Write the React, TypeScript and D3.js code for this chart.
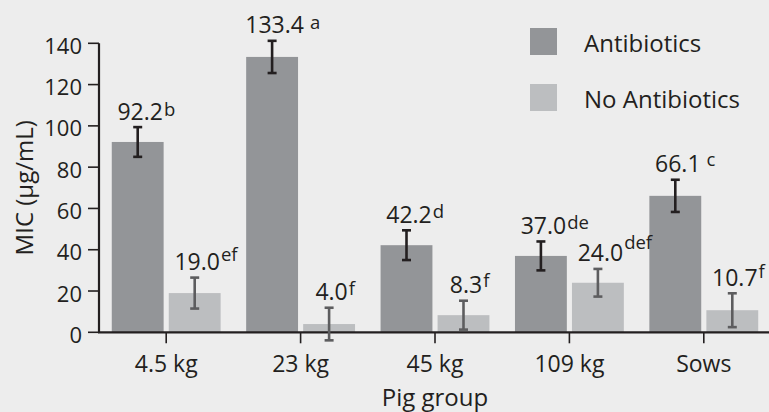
import React, { useEffect, useRef } from "react";
import * as d3 from "d3";

// Pig groups on the x axis
const groups = ["4.5 kg", "23 kg", "45 kg", "109 kg", "Sows"];
// Treatment series
const seriesNames = ["Antibiotics", "No Antibiotics"];
// Mean MIC values (µg/mL)
const antibioticsValues = [92.2, 133.4, 42.2, 37.0, 66.1];
const noAntibioticsValues = [19.0, 4.0, 8.3, 24.0, 10.7];
// Standard errors
const antibioticsErrors = [7.2, 7.8, 7.2, 7.0, 7.8];
const noAntibioticsErrors = [7.5, 7.9, 7.0, 6.7, 8.2];
// Significance letters
const antibioticsLetters = ["b", "a", "d", "de", "c"];
const noAntibioticsLetters = ["ef", "f", "f", "def", "f"];
// Y axis ticks
const yTicks = [0, 20, 40, 60, 80, 100, 120, 140];

const W = 769;
const H = 412;
const FONT = "'Open Sans', 'Noto Sans', sans-serif";
const INK = "#231f20";
const BAR_COLORS = ["#939598", "#bcbec0"];
const ERR_COLORS = ["#231f20", "#5d5d5f"];
// superscript lift and leading gap per label (style only)
const SUP_LIFT = [
  [4, 4, 5, 5, 6],
  [9, 5, 6, 12, 8],
];
const SUP_GAP = [
  [1, 6, 1, 1, 6],
  [1, 1, 1, 1, 1],
];

export default function App() {
  const ref = useRef<SVGSVGElement | null>(null);

  useEffect(() => {
    const svg = d3.select(ref.current);
    svg.selectAll("*").remove();

    const plotLeft = 99;
    const plotRight = 771;
    const plotTop = 43.3;
    const plotBottom = 332.3;

    const y = d3.scaleLinear().domain([0, 140]).range([plotBottom, plotTop]);
    const x0 = d3
      .scaleBand<string>()
      .domain(groups)
      .range([plotLeft, plotRight])
      .paddingInner(0.19)
      .paddingOuter(0.095);
    const x1 = d3
      .scaleBand<string>()
      .domain(seriesNames)
      .range([0, x0.bandwidth()])
      .paddingInner(0.09);

    svg.append("rect").attr("width", W).attr("height", H).attr("fill", "#ededed");

    const values = [antibioticsValues, noAntibioticsValues];
    const errors = [antibioticsErrors, noAntibioticsErrors];
    const letters = [antibioticsLetters, noAntibioticsLetters];

    // bars
    seriesNames.forEach((s, si) => {
      svg
        .append("g")
        .selectAll("rect")
        .data(groups)
        .join("rect")
        .attr("x", (g) => (x0(g) ?? 0) + (x1(s) ?? 0))
        .attr("width", x1.bandwidth())
        .attr("y", (_, i) => y(values[si][i]))
        .attr("height", (_, i) => y(0) - y(values[si][i]))
        .attr("fill", BAR_COLORS[si]);
    });

    // axes
    svg
      .append("line")
      .attr("x1", plotLeft)
      .attr("x2", plotLeft)
      .attr("y1", y(140))
      .attr("y2", y(0))
      .attr("stroke", INK)
      .attr("stroke-width", 2.2);

    const yt = svg.append("g");
    yTicks.forEach((t) => {
      yt.append("line")
        .attr("x1", plotLeft - 11)
        .attr("x2", plotLeft)
        .attr("y1", y(t))
        .attr("y2", y(t))
        .attr("stroke", INK)
        .attr("stroke-width", 1.6);
      yt.append("text")
        .attr("x", plotLeft - 17)
        .attr("y", y(t) + 10.5)
        .attr("text-anchor", "end")
        .attr("font-family", FONT)
        .attr("font-size", 22)
        .attr("fill", INK)
        .text(String(t));
    });

    groups.forEach((g) => {
      const cx = (x0(g) ?? 0) + x0.bandwidth() / 2;
      svg
        .append("line")
        .attr("x1", cx)
        .attr("x2", cx)
        .attr("y1", y(0))
        .attr("y2", y(0) + 11)
        .attr("stroke", INK)
        .attr("stroke-width", 1.6);
      svg
        .append("text")
        .attr("x", cx)
        .attr("y", y(0) + 39.5)
        .attr("text-anchor", "middle")
        .attr("font-family", FONT)
        .attr("font-size", 23)
        .attr("fill", INK)
        .text(g);
    });

    svg
      .append("line")
      .attr("x1", plotLeft - 1)
      .attr("x2", W)
      .attr("y1", y(0))
      .attr("y2", y(0))
      .attr("stroke", INK)
      .attr("stroke-width", 2.2);

    // error bars and value labels
    seriesNames.forEach((s, si) => {
      groups.forEach((g, i) => {
        const cx = (x0(g) ?? 0) + (x1(s) ?? 0) + x1.bandwidth() / 2;
        const v = values[si][i];
        const e = errors[si][i];
        const eg = svg.append("g").attr("stroke", ERR_COLORS[si]).attr("stroke-width", 2.6);
        eg.append("line").attr("x1", cx).attr("x2", cx).attr("y1", y(v + e)).attr("y2", y(v - e));
        eg.append("line").attr("x1", cx - 4.5).attr("x2", cx + 4.5).attr("y1", y(v + e)).attr("y2", y(v + e));
        eg.append("line").attr("x1", cx - 4.5).attr("x2", cx + 4.5).attr("y1", y(v - e)).attr("y2", y(v - e));

        const ly = y(v + e) - 7.5;
        const num = svg
          .append("text")
          .attr("x", cx + 2.5)
          .attr("y", ly)
          .attr("text-anchor", "middle")
          .attr("font-family", FONT)
          .attr("font-size", 23)
          .attr("fill", INK)
          .text(v.toFixed(1));
        const w = (num.node() as SVGTextElement).getComputedTextLength();
        svg
          .append("text")
          .attr("x", cx + 2.5 + w / 2 + SUP_GAP[si][i])
          .attr("y", ly - SUP_LIFT[si][i])
          .attr("font-family", FONT)
          .attr("font-size", 18.5)
          .attr("fill", INK)
          .text(letters[si][i]);
      });
    });

    // axis titles
    svg
      .append("text")
      .attr("x", (plotLeft + plotRight) / 2)
      .attr("y", 406)
      .attr("text-anchor", "middle")
      .attr("font-family", FONT)
      .attr("font-size", 24)
      .attr("fill", INK)
      .text("Pig group");
    svg
      .append("text")
      .attr("transform", `translate(33,${(plotTop + plotBottom) / 2}) rotate(-90)`)
      .attr("text-anchor", "middle")
      .attr("font-family", FONT)
      .attr("font-size", 24)
      .attr("fill", INK)
      .text("MIC (µg/mL)");

    // legend
    const lg = svg.append("g");
    seriesNames.forEach((s, si) => {
      const ly = 28 + si * 56;
      lg.append("rect").attr("x", 530).attr("y", ly).attr("width", 27).attr("height", 27).attr("fill", BAR_COLORS[si]);
      lg.append("text")
        .attr("x", 584)
        .attr("y", ly + 23.5)
        .attr("font-family", FONT)
        .attr("font-size", 24)
        .attr("fill", INK)
        .text(s);
    });
  }, []);

  return (
    <div style={{ position: "absolute", left: 0, top: 0 }}>
      <svg ref={ref} width={W} height={H} style={{ display: "block" }} />
    </div>
  );
}
